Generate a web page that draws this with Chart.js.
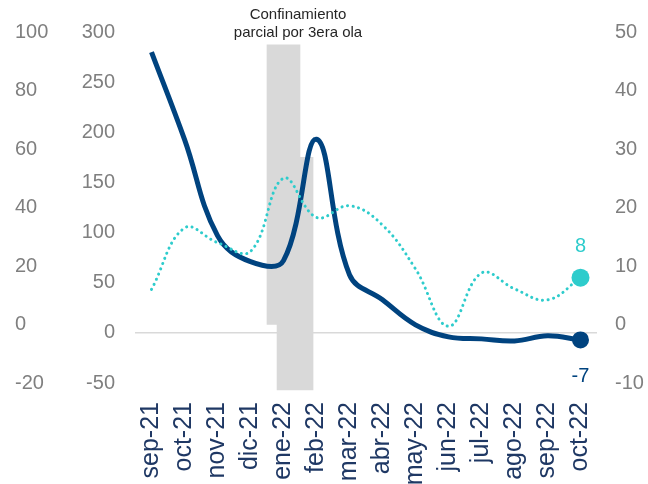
<!DOCTYPE html>
<html>
<head>
<meta charset="utf-8">
<script src="https://cdn.jsdelivr.net/npm/chart.js@4/dist/chart.umd.min.js"></script>
<style>
  body { margin: 0; background: #fff; }
</style>
</head>
<body>
<canvas id="chart" width="648" height="484"></canvas>
<script>
// months on the x axis
const months = ["sep-21", "oct-21", "nov-21", "dic-21", "ene-22", "feb-22", "mar-22",
  "abr-22", "may-22", "jun-22", "jul-22", "ago-22", "sep-22", "oct-22"];

// dark line (inner left axis)
const darkSeries = [280, 193, 97, 71, 72, 193, 58, 33, 8, -4, -6, -8, -3, -7];
// dotted teal line (right axis)
const tealSeries = [6, 16.5, 14, 12.5, 25, 18.3, 20.3, 17, 9.5, -0.3, 8.8, 6.1, 4.2, 8];

// lockdown shading: two floating bars, [bottom, top]
const lockdownOuter = [0, 95.6];     // on outer left axis
const lockdownInner = [-57, 175];    // on inner left axis
const lockdownAt = [4, 4.35];        // position in month index units
const lockdownText = ["Confinamiento", "parcial por 3era ola"];

// tick ranges
const outerTicks = { min: -20, max: 100, step: 20 };
const innerTicks = { min: -50, max: 300, step: 50 };
const rightTicks = { min: -10, max: 50, step: 10 };

const navy = "#00437f";
const teal = "#2ecccc";
const grayText = "#7f7f7f";
const last = months.length - 1;

// end labels and title note
const extrasPlugin = {
  id: "extras",
  afterDatasetsDraw(chart) {
    const ctx = chart.ctx;
    ctx.save();
    ctx.textAlign = "center";
    ctx.textBaseline = "middle";
    ctx.font = "20px 'Liberation Sans', Arial, sans-serif";
    const pDark = chart.getDatasetMeta(0).data[last];
    const pTeal = chart.getDatasetMeta(1).data[last];
    ctx.fillStyle = teal;
    ctx.fillText(String(tealSeries[last]), pTeal.x, pTeal.y - 31);
    ctx.fillStyle = navy;
    ctx.fillText(String(darkSeries[last]), pDark.x, pDark.y + 37);

    const xb = chart.scales.xb;
    const cx = xb.getPixelForValue(4.5);
    ctx.font = "15px 'Liberation Sans', Arial, sans-serif";
    ctx.fillStyle = "#262626";
    ctx.fillText(lockdownText[0], cx - 2, 15);
    ctx.fillText(lockdownText[1], cx - 2, 33);
    ctx.restore();
  }
};

const tickFont = { family: "'Liberation Sans', Arial, sans-serif", size: 20 };

new Chart(document.getElementById("chart"), {
  type: "line",
  data: {
    labels: months,
    datasets: [
      {
        label: "dark",
        data: darkSeries,
        yAxisID: "y",
        borderColor: navy,
        backgroundColor: navy,
        borderWidth: 5,
        tension: 0.4,
        pointRadius: darkSeries.map((v, i) => (i === last ? 8.5 : 0)),
        pointBorderWidth: 0,
        order: 1
      },
      {
        label: "teal",
        data: tealSeries,
        yAxisID: "yR",
        borderColor: teal,
        backgroundColor: teal,
        borderWidth: 3,
        borderDash: [0.1, 5.5],
        borderCapStyle: "round",
        tension: 0.4,
        pointRadius: tealSeries.map((v, i) => (i === last ? 9 : 0)),
        pointBorderWidth: 0,
        order: 0
      },
      {
        type: "bar",
        label: "lockdown1",
        data: [{ x: lockdownAt[0], y: lockdownOuter }],
        xAxisID: "xb",
        yAxisID: "yOuter",
        backgroundColor: "#d9d9d9",
        barThickness: 33,
        grouped: false,
        order: 10
      },
      {
        type: "bar",
        label: "lockdown2",
        data: [{ x: lockdownAt[1], y: lockdownInner }],
        xAxisID: "xb",
        yAxisID: "y",
        backgroundColor: "#d9d9d9",
        barThickness: 36,
        grouped: false,
        clip: false,
        order: 10
      }
    ]
  },
  options: {
    responsive: false,
    animation: false,
    layout: { padding: { left: 15, top: 20, right: 0, bottom: 0 } },
    plugins: {
      legend: { display: false },
      tooltip: { enabled: false }
    },
    scales: {
      x: {
        type: "category",
        offset: true,
        grid: { display: false, drawTicks: false },
        border: { display: false },
        ticks: {
          color: "#1f3864",
          font: { family: "'Liberation Sans', Arial, sans-serif", size: 25 },
          minRotation: 90,
          maxRotation: 90,
          padding: 19,
          autoSkip: false
        },
        afterFit(scale) { scale.height = 101; }
      },
      xb: {
        type: "linear",
        display: false,
        offset: false,
        min: -0.5,
        max: last + 0.5
      },
      yOuter: {
        position: "left",
        weight: 10,
        min: outerTicks.min,
        max: outerTicks.max,
        grid: { display: false, drawTicks: false },
        border: { display: false },
        ticks: { stepSize: outerTicks.step, color: grayText, font: tickFont, crossAlign: "far", padding: 0 },
        afterFit(scale) { scale.width = 45; }
      },
      y: {
        position: "left",
        weight: 0,
        min: innerTicks.min,
        max: innerTicks.max,
        grid: {
          drawTicks: false,
          lineWidth: 1.5,
          color: (c) => (c.tick && c.tick.value === 0 ? "#d9d9d9" : "rgba(0,0,0,0)")
        },
        border: { display: false },
        ticks: { stepSize: innerTicks.step, color: grayText, font: tickFont, padding: 20 },
        afterFit(scale) { scale.width = 75; }
      },
      yR: {
        position: "right",
        min: rightTicks.min,
        max: rightTicks.max,
        grid: { display: false, drawTicks: false },
        border: { display: false },
        ticks: { stepSize: rightTicks.step, color: grayText, font: tickFont, padding: 18 },
        afterFit(scale) { scale.width = 51; }
      }
    }
  },
  plugins: [extrasPlugin]
});
</script>
</body>
</html>
